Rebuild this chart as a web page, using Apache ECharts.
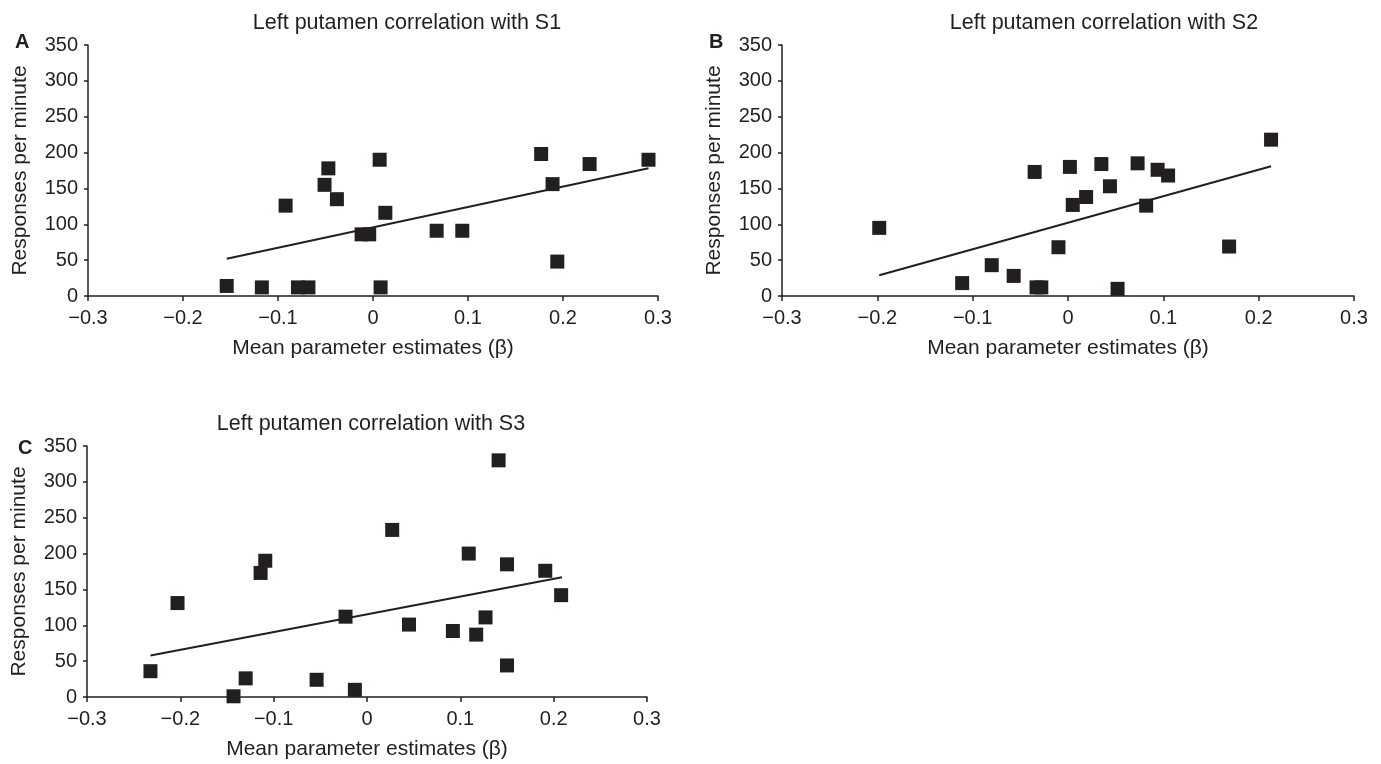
<!DOCTYPE html>
<html>
<head>
<meta charset="utf-8">
<script src="https://cdn.jsdelivr.net/npm/echarts@6/dist/echarts.min.js"></script>
<style>
  html, body { margin: 0; padding: 0; background: #fff; }
  #chart { width: 1381px; height: 764px; }
</style>
</head>
<body>
<div id="chart"></div>
<script>
// tick values shared by all three panels
const betaTicks = [-0.3, -0.2, -0.1, 0, 0.1, 0.2, 0.3]
const rateTicks = [0, 50, 100, 150, 200, 250, 300, 350]

// A: S1
const s1Beta = [-0.154, -0.117, -0.079, -0.068, -0.092, -0.047, -0.051, -0.038, 0.007, 0.013, -0.012, -0.004, 0.008, 0.067, 0.094, 0.177, 0.189, 0.228, 0.194, 0.290]
const s1Rate = [14, 12, 12, 12, 126, 178, 155, 135, 190, 116, 86, 86, 12, 91, 91, 198, 156, 184, 48, 190]
const fit1Beta = [-0.154, 0.290]
const fit1Rate = [52, 178]

// B: S2
const s2Beta = [-0.198, -0.111, -0.080, -0.057, -0.033, -0.028, -0.035, -0.010, 0.002, 0.005, 0.019, 0.035, 0.044, 0.052, 0.073, 0.082, 0.094, 0.105, 0.169, 0.213]
const s2Rate = [95, 18, 43, 28, 12, 12, 173, 68, 180, 127, 138, 184, 153, 10, 185, 126, 176, 168, 69, 218]
const fit2Beta = [-0.198, 0.213]
const fit2Rate = [29, 181]

// C: S3
const s3Beta = [-0.232, -0.203, -0.109, -0.114, -0.130, -0.143, -0.054, -0.023, -0.013, 0.027, 0.141, 0.109, 0.150, 0.191, 0.208, 0.045, 0.092, 0.117, 0.127, 0.150]
const s3Rate = [36, 131, 190, 173, 26, 1, 24, 112, 10, 233, 330, 200, 185, 176, 142, 101, 92, 87, 111, 44]
const fit3Beta = [-0.232, 0.209]
const fit3Rate = [58, 167]

const panelTitles = ['Left putamen correlation with S1', 'Left putamen correlation with S2', 'Left putamen correlation with S3']
const panelLetters = ['A', 'B', 'C']

const ink = '#231f20'
const font = 'Liberation Sans, Arial, sans-serif'

// 各面板的位置
const grids = [
  { left: 88, top: 45, width: 570, height: 251 },
  { left: 782, top: 45, width: 572, height: 251 },
  { left: 87, top: 446, width: 560, height: 251 }
]
// 标题中心与字母位置
const titlePos = [[402, 7], [1099, 7], [366, 408]]
const letterPos = [[10, 27], [704, 27], [13, 433]]

const pairs = (xs, ys) => xs.map((x, i) => [x, ys[i]])
const fmtBeta = v => (v < 0 ? '\u2212' + Math.abs(v) : String(v))

const chart = echarts.init(document.getElementById('chart'))

const xAxis = grids.map((g, i) => ({
  gridIndex: i,
  type: 'value',
  min: betaTicks[0],
  max: betaTicks[betaTicks.length - 1],
  interval: 0.1,
  name: 'Mean parameter estimates (\u03b2)',
  nameLocation: 'middle',
  nameGap: 42,
  nameTextStyle: { color: ink, fontSize: 21, fontFamily: font },
  axisLine: { show: true, onZero: false, lineStyle: { color: ink, width: 1.5 } },
  axisTick: { show: true, length: 5, lineStyle: { color: ink, width: 1.5 } },
  axisLabel: { color: ink, fontSize: 20, fontFamily: font, margin: 12, formatter: fmtBeta },
  splitLine: { show: false }
}))

const yAxis = grids.map((g, i) => ({
  gridIndex: i,
  type: 'value',
  min: rateTicks[0],
  max: rateTicks[rateTicks.length - 1],
  interval: 50,
  name: 'Responses per minute',
  nameLocation: 'middle',
  nameGap: 57,
  nameTextStyle: { color: ink, fontSize: 21, fontFamily: font },
  axisLine: { show: true, onZero: false, lineStyle: { color: ink, width: 1.5 } },
  axisTick: { show: true, length: 4, lineStyle: { color: ink, width: 1.5 } },
  axisLabel: { color: ink, fontSize: 20, fontFamily: font, margin: 10 },
  splitLine: { show: false }
}))

const scatterData = [pairs(s1Beta, s1Rate), pairs(s2Beta, s2Rate), pairs(s3Beta, s3Rate)]
const fitData = [pairs(fit1Beta, fit1Rate), pairs(fit2Beta, fit2Rate), pairs(fit3Beta, fit3Rate)]

const series = []
grids.forEach((g, i) => {
  series.push({
    type: 'scatter',
    xAxisIndex: i,
    yAxisIndex: i,
    symbol: 'rect',
    symbolSize: 14,
    itemStyle: { color: ink, opacity: 1 },
    data: scatterData[i]
  })
  series.push({
    type: 'line',
    xAxisIndex: i,
    yAxisIndex: i,
    showSymbol: false,
    symbol: 'none',
    lineStyle: { color: ink, width: 2 },
    data: fitData[i]
  })
})

// 标题与面板字母
const title = []
grids.forEach((g, i) => {
  title.push({
    text: panelTitles[i],
    left: titlePos[i][0],
    top: titlePos[i][1],
    textAlign: 'center',
    textStyle: { color: ink, fontSize: 21.5, fontWeight: 'normal', fontFamily: font }
  })
  title.push({
    text: panelLetters[i],
    left: letterPos[i][0],
    top: letterPos[i][1],
    textStyle: { color: ink, fontSize: 20, fontWeight: 'bold', fontFamily: font }
  })
})

chart.setOption({
  animation: false,
  backgroundColor: '#fff',
  title: title,
  grid: grids,
  xAxis: xAxis,
  yAxis: yAxis,
  series: series
})
</script>
</body>
</html>
